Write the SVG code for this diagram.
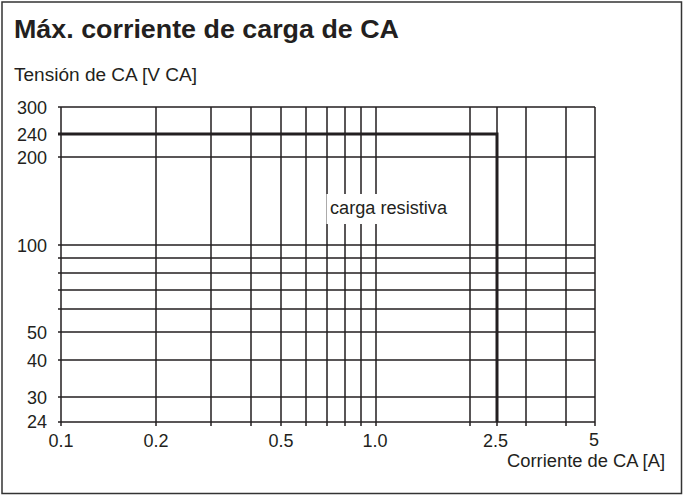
<svg xmlns="http://www.w3.org/2000/svg" width="683" height="495" viewBox="0 0 683 495">
  <style>
    .t { font-family: "Liberation Sans", Arial, sans-serif; fill: #231f20; }
    .lbl { font-size: 18px; }
    .yl { font-size: 18px; text-anchor: end; }
    .xl { font-size: 18px; text-anchor: middle; }
    .g { stroke: #231f20; stroke-width: 1.5; fill: none; }
    .thick { stroke: #231f20; stroke-width: 3; fill: none; }
  </style>
  <rect x="0" y="0" width="683" height="495" fill="#ffffff"/>
  <rect x="2" y="2" width="679.5" height="491.5" fill="none" stroke="#333333" stroke-width="1.5"/>

  <g id="title">
    <text class="t" x="14" y="37.5" font-size="26" font-weight="bold" textLength="385" lengthAdjust="spacingAndGlyphs">Máx. corriente de carga de CA</text>
  </g>
  <g id="y-axis-title">
    <text class="t lbl" x="14" y="81" textLength="183" lengthAdjust="spacingAndGlyphs">Tensión de CA [V CA]</text>
  </g>

  <g id="grid">
    <path class="g" d="M58 107H595 M58 157H595 M58 245H595 M58 258H595 M58 273H595 M58 290H595 M58 309H595 M58 332H595 M58 360H595 M58 397H595 M58 422H595"/>
    <path class="g" d="M61 107V426 M156 107V426 M211 107V426 M251 107V426 M281 107V426 M306 107V426 M327 107V426 M345 107V426 M361 107V426 M376 107V426 M470 107V426 M497 107V426 M526 107V426 M566 107V426 M595 107V426"/>
  </g>

  <g id="y-labels">
    <text class="t yl" x="47" y="113.5">300</text>
    <text class="t yl" x="47" y="140.5">240</text>
    <text class="t yl" x="47" y="163.5">200</text>
    <text class="t yl" x="47" y="251.5">100</text>
    <text class="t yl" x="47" y="338.5">50</text>
    <text class="t yl" x="47" y="366.5">40</text>
    <text class="t yl" x="47" y="403.5">30</text>
    <text class="t yl" x="47" y="428">24</text>
  </g>

  <g id="x-labels">
    <text class="t xl" x="61" y="447">0.1</text>
    <text class="t xl" x="156" y="447">0.2</text>
    <text class="t xl" x="281" y="447">0.5</text>
    <text class="t xl" x="375" y="447">1.0</text>
    <text class="t xl" x="495.5" y="447">2.5</text>
    <text class="t xl" x="594" y="446" font-size="17">5</text>
  </g>
  <g id="x-axis-title">
    <text class="t lbl" x="507" y="467" textLength="158" lengthAdjust="spacingAndGlyphs">Corriente de CA [A]</text>
  </g>

  <g id="connectors">
    <path class="thick" d="M58 134H497V422"/>
  </g>

  <g id="curve-label">
    <rect x="326.5" y="194" width="124" height="30" fill="#ffffff"/>
    <text class="t lbl" x="330" y="214" textLength="117" lengthAdjust="spacingAndGlyphs">carga resistiva</text>
  </g>
</svg>
